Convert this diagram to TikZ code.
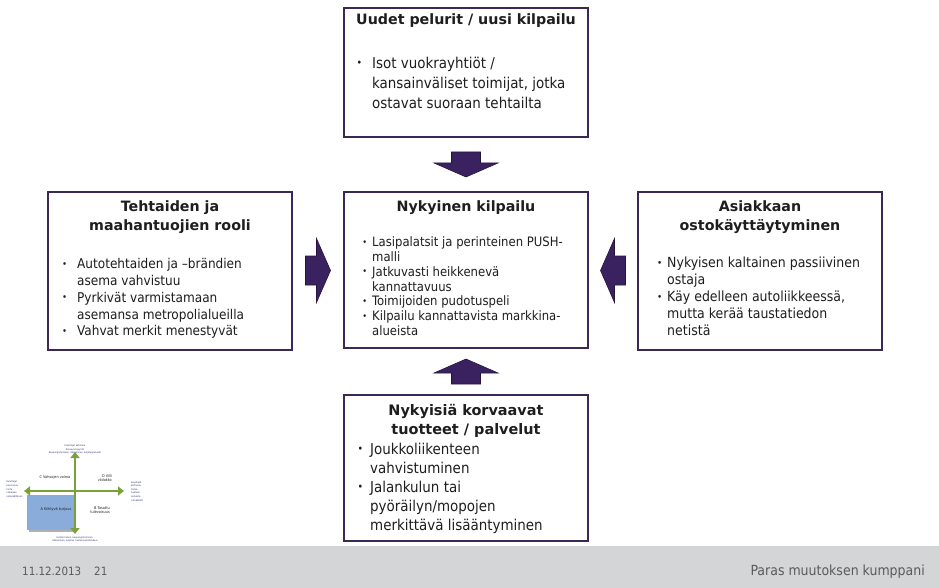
\documentclass[tikz,border=0pt]{standalone}
\usepackage{fontspec}
\usepackage{graphicx}
\usetikzlibrary{calc,arrows.meta}
\newfontfamily\boxfont{DejaVu Sans Condensed}
\newfontfamily\ttlfont{DejaVu Sans}
\definecolor{boxline}{RGB}{60,40,84}
\definecolor{arrowfill}{RGB}{58,34,96}
\definecolor{arrowline}{RGB}{38,20,62}
\definecolor{footerbg}{RGB}{212,213,215}
\definecolor{footertext}{RGB}{90,90,90}
\definecolor{quadgreen}{RGB}{122,160,58}
\definecolor{quadblue}{RGB}{137,172,219}
\definecolor{tinyblue}{RGB}{46,47,122}
\definecolor{textgray}{RGB}{30,30,30}

% bullet hanging to the left of the text column
\newlength\bulgap
\newcommand\bl{\llap{\raisebox{0.12em}{\scalebox{0.7}{•}}\hskip\bulgap}}

\tikzset{
  box/.style={draw=boxline, line width=2bp, fill=white, inner sep=0pt, minimum width=244bp},
  ttl/.style={inner sep=0pt, anchor=base, text=textgray, font=\ttlfont\bfseries\fontsize{14.3}{19}\selectfont},
  lst/.style={inner sep=0pt, anchor=base west, text=textgray},
  pics/blockarrow/.style={code={
    \filldraw[fill=arrowfill, draw=arrowline, line width=0.6bp]
      (-12.5,-14.5) -- (-1.5,-14.5) -- (-1.5,-32) -- (12.5,0) -- (-1.5,32)
      -- (-1.5,14.5) -- (-12.5,14.5) -- cycle;}},
  quadarrow/.style={draw=quadgreen, line width=2.6bp,
    {Triangle[length=6bp,width=9bp]}-{Triangle[length=6bp,width=9bp]}},
  quadlabel/.style={inner sep=0pt, font=\boxfont\fontsize{3.8}{4.3}\selectfont, text=textgray},
  tinytext/.style={inner sep=0pt, font=\boxfont\fontsize{2.4}{3.6}\selectfont, text=tinyblue, align=center},
  foot/.style={inner sep=0pt, text=footertext},
}

\begin{document}
\begin{tikzpicture}[x=1bp, y=-1bp]
\useasboundingbox (0,0) rectangle (939,588);

% footer band
\fill[footerbg] (0,546) rectangle (939,588);
\node[foot, anchor=base west, font=\boxfont\fontsize{11.5}{14}\selectfont] (fdate) at (22,575) {11.12.2013};
\node[foot, anchor=base west, font=\boxfont\fontsize{11.5}{14}\selectfont] (fpage) at (94,575) {21};
\node[foot, anchor=base east, font=\boxfont\fontsize{14}{16}\selectfont] (fslogan) at (925,575) {Paras muutoksen kumppani};

% the five boxes
\node[box, minimum height=129bp] (topbox) at (466,72.5) {};
\node[box, minimum height=156bp] (midbox) at (466,270) {};
\node[box, minimum height=158bp] (leftbox) at (170,271) {};
\node[box, minimum height=158bp] (rightbox) at (760,271) {};
\node[box, minimum height=146bp] (botbox) at (466,468) {};

% block arrows pointing into the centre box
\pic[rotate=-90] (adown) at ($(topbox.south)!0.5!(midbox.north)$) {blockarrow};
\pic[rotate=90] (aup) at ($(botbox.north)!0.5!(midbox.south)$) {blockarrow};
\pic (aright) at ($(leftbox.east)!0.5!(midbox.west)$) {blockarrow};
\pic[rotate=180] (aleft) at ($(rightbox.west)!0.5!(midbox.east)$) {blockarrow};

% top box
\node[ttl] (toptitle) at (466,25)
  {\begin{tabular}[t]{@{}c@{}}Uudet pelurit / uusi kilpailu\end{tabular}};
\node[lst, font=\boxfont\fontsize{15}{20}\selectfont] (toplist) at (372,68.5)
  {\setlength\bulgap{10bp}\begin{tabular}[t]{@{}l@{}}\bl Isot vuokrayhtiöt /\\kansainväliset toimijat, jotka\\ostavat suoraan tehtailta\end{tabular}};

% centre box
\node[ttl] (midtitle) at (466,212)
  {\begin{tabular}[t]{@{}c@{}}Nykyinen kilpailu\end{tabular}};
\node[lst, font=\boxfont\fontsize{13}{14.8}\selectfont] (midlist) at (372,247)
  {\setlength\bulgap{5bp}\begin{tabular}[t]{@{}l@{}}\bl Lasipalatsit ja perinteinen PUSH-\\malli\\\bl Jatkuvasti heikkenevä\\kannattavuus\\\bl Toimijoiden pudotuspeli\\\bl Kilpailu kannattavista markkina-\\alueista\end{tabular}};

% left box
\node[ttl] (lefttitle) at (170,212)
  {\begin{tabular}[t]{@{}c@{}}Tehtaiden ja\\maahantuojien rooli\end{tabular}};
\node[lst, font=\boxfont\fontsize{13.5}{16.8}\selectfont] (leftlist) at (77,269)
  {\setlength\bulgap{10bp}\begin{tabular}[t]{@{}l@{}}\bl Autotehtaiden ja –brändien\\asema vahvistuu\\\bl Pyrkivät varmistamaan\\asemansa metropolialueilla\\\bl Vahvat merkit menestyvät\end{tabular}};

% right box
\node[ttl] (righttitle) at (760,212)
  {\begin{tabular}[t]{@{}c@{}}Asiakkaan\\ostokäyttäytyminen\end{tabular}};
\node[lst, font=\boxfont\fontsize{14}{17}\selectfont] (rightlist) at (667,268)
  {\setlength\bulgap{5bp}\begin{tabular}[t]{@{}l@{}}\bl Nykyisen kaltainen passiivinen\\ostaja\\\bl Käy edelleen autoliikkeessä,\\mutta kerää taustatiedon\\netistä\end{tabular}};

% bottom box
\node[ttl, font=\ttlfont\bfseries\fontsize{14.5}{20}\selectfont] (bottitle) at (466,415)
  {\begin{tabular}[t]{@{}c@{}}Nykyisiä korvaavat\\tuotteet / palvelut\end{tabular}};
\node[lst, font=\boxfont\fontsize{15}{19}\selectfont] (botlist) at (370,454.5)
  {\setlength\bulgap{7bp}\begin{tabular}[t]{@{}l@{}}\bl Joukkoliikenteen\\vahvistuminen\\\bl Jalankulun tai\\pyöräilyn/mopojen\\merkittävä lisääntyminen\end{tabular}};

% small scenario quadrant
\fill[gray!60] (28.5,496.5) rectangle (76,531.5);
\fill[quadblue] (27,495) rectangle (75,530);
\coordinate (qtop) at (75,452);
\coordinate (qbot) at (75,534);
\coordinate (qleft) at (24,491);
\coordinate (qright) at (124,491);
\draw[quadarrow] (qbot) -- (qtop);
\draw[quadarrow] (qleft) -- (qright);
\node[quadlabel, anchor=base] (qc) at (55,478) {C Vahvojen voima};
\node[quadlabel, anchor=north east, align=right] (qd) at (112,474.5) {D Villi\\viidakko};
\node[quadlabel, anchor=base] (qa) at (56,510) {A Kiihtyvä kurjuus};
\node[quadlabel, anchor=north east, align=right] (qb) at (110,506.5) {B Tasattu\\tulevaisuus};
\node[tinytext, anchor=south] (ttop) at (75,454.5) {Kuluttajat aktiivisia\\Kasvava kysyntä\\Kaupungistuminen, liikkuminen, kuljetuspalvelut};
\node[tinytext, anchor=west, align=left] (tleft) at (6.5,489.5) {Kuluttajat\\passiivisia,\\hinta\\ratkaisee\\ostopäätöksen};
\node[tinytext, anchor=west, align=left] (tright) at (131,491.5) {Kuluttajat\\aktiivisia,\\tietoa\\haetaan\\verkosta\\ostopäätös};
\node[tinytext, anchor=north] (tbot) at (75,536) {Heikko talous, kaupungistuminen,\\liikkuminen, kuljetus, kustannustehokkuus};
\end{tikzpicture}
\end{document}
